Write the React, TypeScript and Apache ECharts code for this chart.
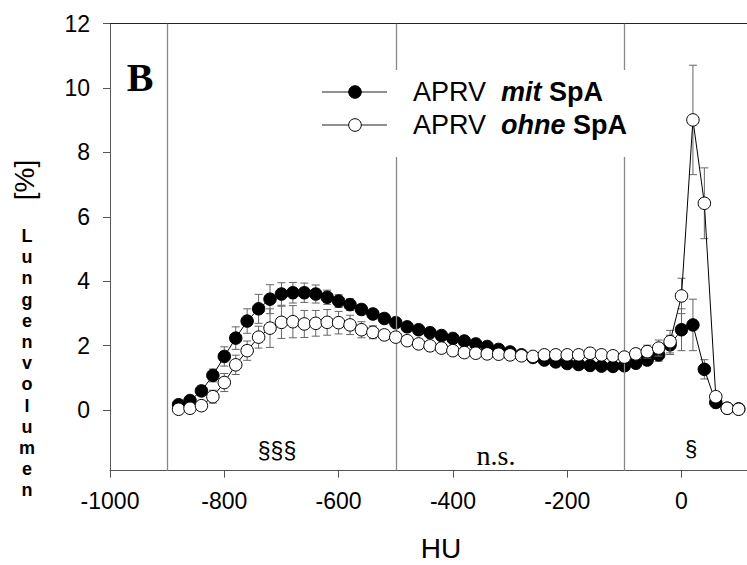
import React, { useEffect, useRef } from "react";
import * as echarts from "echarts";

const hu = [-880, -860, -840, -820, -800, -780, -760, -740, -720, -700, -680, -660, -640, -620, -600, -580, -560, -540, -520, -500, -480, -460, -440, -420, -400, -380, -360, -340, -320, -300, -280, -260, -240, -220, -200, -180, -160, -140, -120, -100, -80, -60, -40, -20, 0, 20, 40, 60, 80, 100];

const mitSpA = [0.16, 0.29, 0.59, 1.07, 1.66, 2.23, 2.76, 3.14, 3.44, 3.6, 3.64, 3.64, 3.6, 3.5, 3.38, 3.27, 3.12, 2.98, 2.84, 2.71, 2.58, 2.49, 2.4, 2.31, 2.22, 2.14, 2.05, 1.97, 1.88, 1.8, 1.71, 1.63, 1.55, 1.49, 1.44, 1.41, 1.38, 1.36, 1.35, 1.37, 1.45, 1.55, 1.71, 2.02, 2.49, 2.64, 1.26, 0.23, 0.05, 0.03];
const mitSD = [0.05, 0.08, 0.15, 0.2, 0.3, 0.35, 0.38, 0.45, 0.45, 0.35, 0.32, 0.3, 0.28, 0.22, 0.2, 0.18, 0.15, 0.13, 0.12, 0.12, 0.11, 0.1, 0.1, 0.1, 0.1, 0.1, 0.1, 0.1, 0.1, 0.1, 0.1, 0.1, 0.1, 0.1, 0.1, 0.1, 0.1, 0.1, 0.1, 0.1, 0.12, 0.15, 0.2, 0.3, 0.65, 0.8, 0.3, 0.1, 0.03, 0.02];

const ohneSpA = [0.02, 0.05, 0.13, 0.41, 0.85, 1.4, 1.84, 2.26, 2.54, 2.72, 2.74, 2.67, 2.69, 2.72, 2.71, 2.64, 2.49, 2.41, 2.33, 2.26, 2.15, 2.05, 1.99, 1.92, 1.84, 1.78, 1.76, 1.74, 1.73, 1.71, 1.68, 1.66, 1.71, 1.71, 1.71, 1.71, 1.76, 1.71, 1.68, 1.64, 1.74, 1.81, 1.92, 2.12, 3.54, 9.01, 6.42, 0.41, 0.05, 0.02];
const ohneSD = [0.03, 0.05, 0.1, 0.2, 0.28, 0.3, 0.3, 0.34, 0.6, 0.5, 0.5, 0.42, 0.4, 0.4, 0.35, 0.3, 0.25, 0.2, 0.15, 0.12, 0.1, 0.1, 0.09, 0.09, 0.08, 0.08, 0.08, 0.08, 0.08, 0.08, 0.08, 0.08, 0.1, 0.1, 0.12, 0.15, 0.15, 0.15, 0.12, 0.12, 0.15, 0.2, 0.25, 0.35, 0.55, 1.7, 1.1, 0.15, 0.03, 0.02];

const xTicks = [-1000, -800, -600, -400, -200, 0];
const yTicks = [0, 2, 4, 6, 8, 10, 12];
const regionLines = [-900, -500, -100];
const yTitleLetters = ["L", "u", "n", "g", "e", "n", "v", "o", "l", "u", "m", "e", "n"];

const SANS = "'Liberation Sans', Arial, sans-serif";
const SERIF = "'Liberation Serif', 'Times New Roman', serif";

function errData(vals: number[], sd: number[]) {
  return hu.map((h, i) => [h, vals[i] - sd[i], vals[i] + sd[i]]);
}

function errRender(params: any, api: any) {
  const x = api.value(0);
  const lo = api.coord([x, api.value(1)]);
  const hi = api.coord([x, api.value(2)]);
  const w = 4;
  const st = { stroke: "#666", lineWidth: 1 };
  return {
    type: "group",
    children: [
      { type: "line", shape: { x1: hi[0], y1: hi[1], x2: lo[0], y2: lo[1] }, style: st },
      { type: "line", shape: { x1: hi[0] - w, y1: hi[1], x2: hi[0] + w, y2: hi[1] }, style: st },
      { type: "line", shape: { x1: lo[0] - w, y1: lo[1], x2: lo[0] + w, y2: lo[1] }, style: st },
    ],
  };
}

export default function App() {
  const ref = useRef<HTMLDivElement>(null);
  useEffect(() => {
    document.body.style.margin = "0";
    const chart = echarts.init(ref.current!, null, { renderer: "svg" });
    const letterGraphics = yTitleLetters.map((ch, i) => ({
      type: "text",
      x: 27,
      y: 236 + i * 21.2,
      style: { text: ch, font: `bold 18px ${SANS}`, fill: "#000", align: "center", verticalAlign: "middle" },
    }));
    const legendRow = (y: number, filled: boolean, word: string) => [
      { type: "line", shape: { x1: 322, y1: y, x2: 387, y2: y }, style: { stroke: "#222", lineWidth: 1 } },
      { type: "circle", shape: { cx: 355, cy: y, r: 6.3 }, style: { fill: filled ? "#000" : "#fff", stroke: "#000", lineWidth: 1 } },
      {
        type: "text",
        x: 413,
        y: y,
        style: {
          text: `{a|APRV  }{b|${word}}{c| SpA}`,
          verticalAlign: "middle",
          rich: {
            a: { fontFamily: SANS, fontSize: 27, fill: "#000" },
            b: { fontFamily: SANS, fontSize: 27, fontWeight: "bold", fontStyle: "italic", fill: "#000" },
            c: { fontFamily: SANS, fontSize: 27, fontWeight: "bold", fill: "#000" },
          },
        },
      },
    ];
    chart.setOption({
      animation: false,
      backgroundColor: "#fff",
      grid: { left: 110, top: 23.7, right: 0, bottom: 94.3, containLabel: false },
      xAxis: [
        {
          type: "value",
          min: -1000,
          max: 114.6,
          axisLine: { show: true, onZero: false, lineStyle: { color: "#555", width: 1 } },
          axisTick: { show: true, length: 7, inside: false, customValues: xTicks, lineStyle: { color: "#555" } },
          axisLabel: {
            customValues: xTicks,
            margin: 19,
            color: "#000",
            fontSize: 23,
            fontFamily: SANS,
            formatter: (v: number) => String(v),
          },
          splitLine: { show: false },
        },
        {
          type: "value",
          position: "top",
          min: -1000,
          max: 114.6,
          axisLine: { show: true, onZero: false, lineStyle: { color: "#222", width: 1 } },
          axisTick: { show: false },
          axisLabel: { show: false },
          splitLine: { show: false },
        },
      ],
      yAxis: {
        type: "value",
        min: -1.89,
        max: 12,
        axisLine: { show: true, onZero: false, lineStyle: { color: "#555", width: 1 } },
        axisTick: { show: true, length: 7, customValues: yTicks, lineStyle: { color: "#555" } },
        axisLabel: { customValues: yTicks, margin: 20, color: "#000", fontSize: 23, fontFamily: SANS, formatter: (v: number) => String(v) },
        splitLine: { show: false },
      },
      series: [
        {
          type: "custom",
          name: "errMit",
          renderItem: errRender,
          data: errData(mitSpA, mitSD),
          z: 2,
          silent: true,
          markLine: {
            silent: true,
            symbol: "none",
            label: { show: false },
            lineStyle: { color: "#888", width: 1.3, type: "solid" },
            data: regionLines.map((v) => ({ xAxis: v })),
          },
        },
        {
          type: "line",
          name: "APRV mit SpA",
          data: hu.map((h, i) => [h, mitSpA[i]]),
          symbol: "circle",
          symbolSize: 12.5,
          lineStyle: { color: "#000", width: 1 },
          itemStyle: { color: "#000", borderColor: "#000", borderWidth: 1 },
          z: 3,
        },
        {
          type: "custom",
          name: "errOhne",
          renderItem: errRender,
          data: errData(ohneSpA, ohneSD),
          z: 4,
          silent: true,
        },
        {
          type: "line",
          name: "APRV ohne SpA",
          data: hu.map((h, i) => [h, ohneSpA[i]]),
          symbol: "circle",
          symbolSize: 12.5,
          lineStyle: { color: "#000", width: 1 },
          itemStyle: { color: "#fff", borderColor: "#000", borderWidth: 1 },
          z: 5,
        },
      ],
      graphic: [
        { type: "rect", shape: { x: 310, y: 70, width: 332, height: 87 }, style: { fill: "#fff" }, z: 50 },
        ...legendRow(92, true, "mit").map((g) => ({ ...g, z: 51 })),
        ...legendRow(125, false, "ohne").map((g) => ({ ...g, z: 51 })),
        { type: "text", x: 140, y: 77, style: { text: "B", font: `bold 40px ${SERIF}`, fill: "#000", align: "center", verticalAlign: "middle" }, z: 51 },
        {
          type: "group",
          x: 24,
          y: 180,
          rotation: Math.PI / 2,
          children: [
            { type: "text", x: 0, y: 0, style: { text: "[%]", font: `28px ${SANS}`, fill: "#000", align: "center", verticalAlign: "middle" } },
          ],
        },
        ...letterGraphics,
        { type: "text", x: 441, y: 548, style: { text: "HU", font: `28px ${SANS}`, fill: "#000", align: "center", verticalAlign: "middle" } },
        { type: "text", x: 277, y: 451, style: { text: "§§§", font: `23px ${SANS}`, fill: "#000", align: "center", verticalAlign: "middle" } },
        { type: "text", x: 496, y: 455, style: { text: "n.s.", font: `28px ${SERIF}`, fill: "#000", align: "center", verticalAlign: "middle" } },
        { type: "text", x: 691, y: 448, style: { text: "§", font: `22px ${SANS}`, fill: "#000", align: "center", verticalAlign: "middle" } },
      ],
    });
    return () => chart.dispose();
  }, []);
  return <div ref={ref} style={{ position: "fixed", left: 0, top: 0, width: 747, height: 565 }} />;
}
